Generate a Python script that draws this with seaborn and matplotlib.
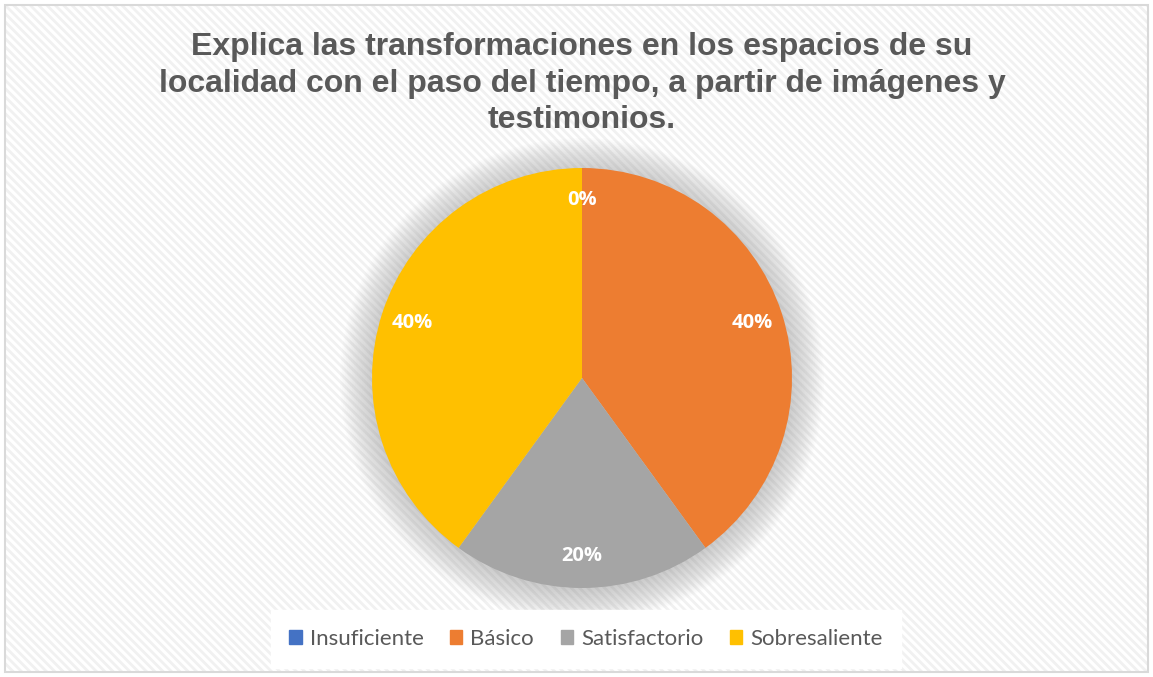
import matplotlib
matplotlib.use('Agg')
import matplotlib.pyplot as plt
import matplotlib.patches as mpatches
import seaborn as sns

# Datos del gráfico
categorias = ['Insuficiente', 'Básico', 'Satisfactorio', 'Sobresaliente']
porcentajes = [0, 40, 20, 40]
colores = ['#4472C4', '#ED7D31', '#A5A5A5', '#FFC000']
titulo = ('Explica las transformaciones en los espacios de su\n'
          'localidad con el paso del tiempo, a partir de imágenes y\n'
          'testimonios.')

sns.set_theme(style='white')
plt.rcParams['font.family'] = ['Liberation Sans', 'DejaVu Sans']
plt.rcParams['hatch.linewidth'] = 2.0
paleta = sns.color_palette(colores)

W, H = 1153, 677
fig = plt.figure(figsize=(W / 100, H / 100), dpi=100)
fig.patch.set_facecolor('white')

# Fondo rayado y marco
fondo = fig.add_axes([0, 0, 1, 1])
fondo.set_xlim(0, W)
fondo.set_ylim(H, 0)
fondo.axis('off')
fondo.add_patch(mpatches.Rectangle((5, 5), W - 10, H - 10, facecolor='white',
                                   edgecolor='#f1f1f1', hatch='\\\\\\\\', linewidth=0))
fondo.add_patch(mpatches.Rectangle((5, 5), W - 10, H - 10, facecolor='none',
                                   edgecolor='#d9d9d9', linewidth=1.5))

# Título
fig.text(582 / W, 1 - 32 / H, titulo, ha='center', va='top', fontsize=23,
         fontweight='bold', color='#595959', linespacing=1.29)

# Gráfico circular
cx, cy, r = 582, 378, 210
m = 1.3
ax = fig.add_axes([(cx - r * m) / W, (H - cy - r * m) / H, 2 * r * m / W, 2 * r * m / H])

wedges, texts, autotexts = ax.pie(
    porcentajes, colors=paleta, startangle=90, counterclock=False,
    autopct='%1.0f%%', pctdistance=0.85, radius=1,
    wedgeprops=dict(linewidth=0),
    textprops=dict(color='white', fontsize=14.5, fontweight='bold', family='Open Sans'))
for w in wedges:
    w.set_zorder(2)
for t in autotexts:
    t.set_zorder(3)
ax.set_xlim(-m, m)
ax.set_ylim(-m, m)
ax.axis('off')

# Sombra suave
for i in range(20):
    ax.add_patch(mpatches.Circle((0, -0.01), 1.0 + 0.008 * i, color='#8c8c8c',
                                 alpha=0.022, linewidth=0, zorder=0))

# Leyenda
handles = [mpatches.Patch(color=c, label=l) for c, l in zip(paleta, categorias)]
leg = fig.legend(handles=handles, loc='center', bbox_to_anchor=(586 / W, 1 - 639 / H),
                 ncol=4, frameon=True, handlelength=0.55, handleheight=0.55,
                 handletextpad=0.36, columnspacing=1.2, borderpad=0.55, borderaxespad=0,
                 prop=dict(family='Lato', size=16))
leg.get_frame().set_facecolor('white')
leg.get_frame().set_edgecolor('white')
leg.get_frame().set_alpha(1)
leg.get_frame().set_boxstyle('square')
for t in leg.get_texts():
    t.set_color('#595959')

fig.savefig('out.png', dpi=100, facecolor='white')
